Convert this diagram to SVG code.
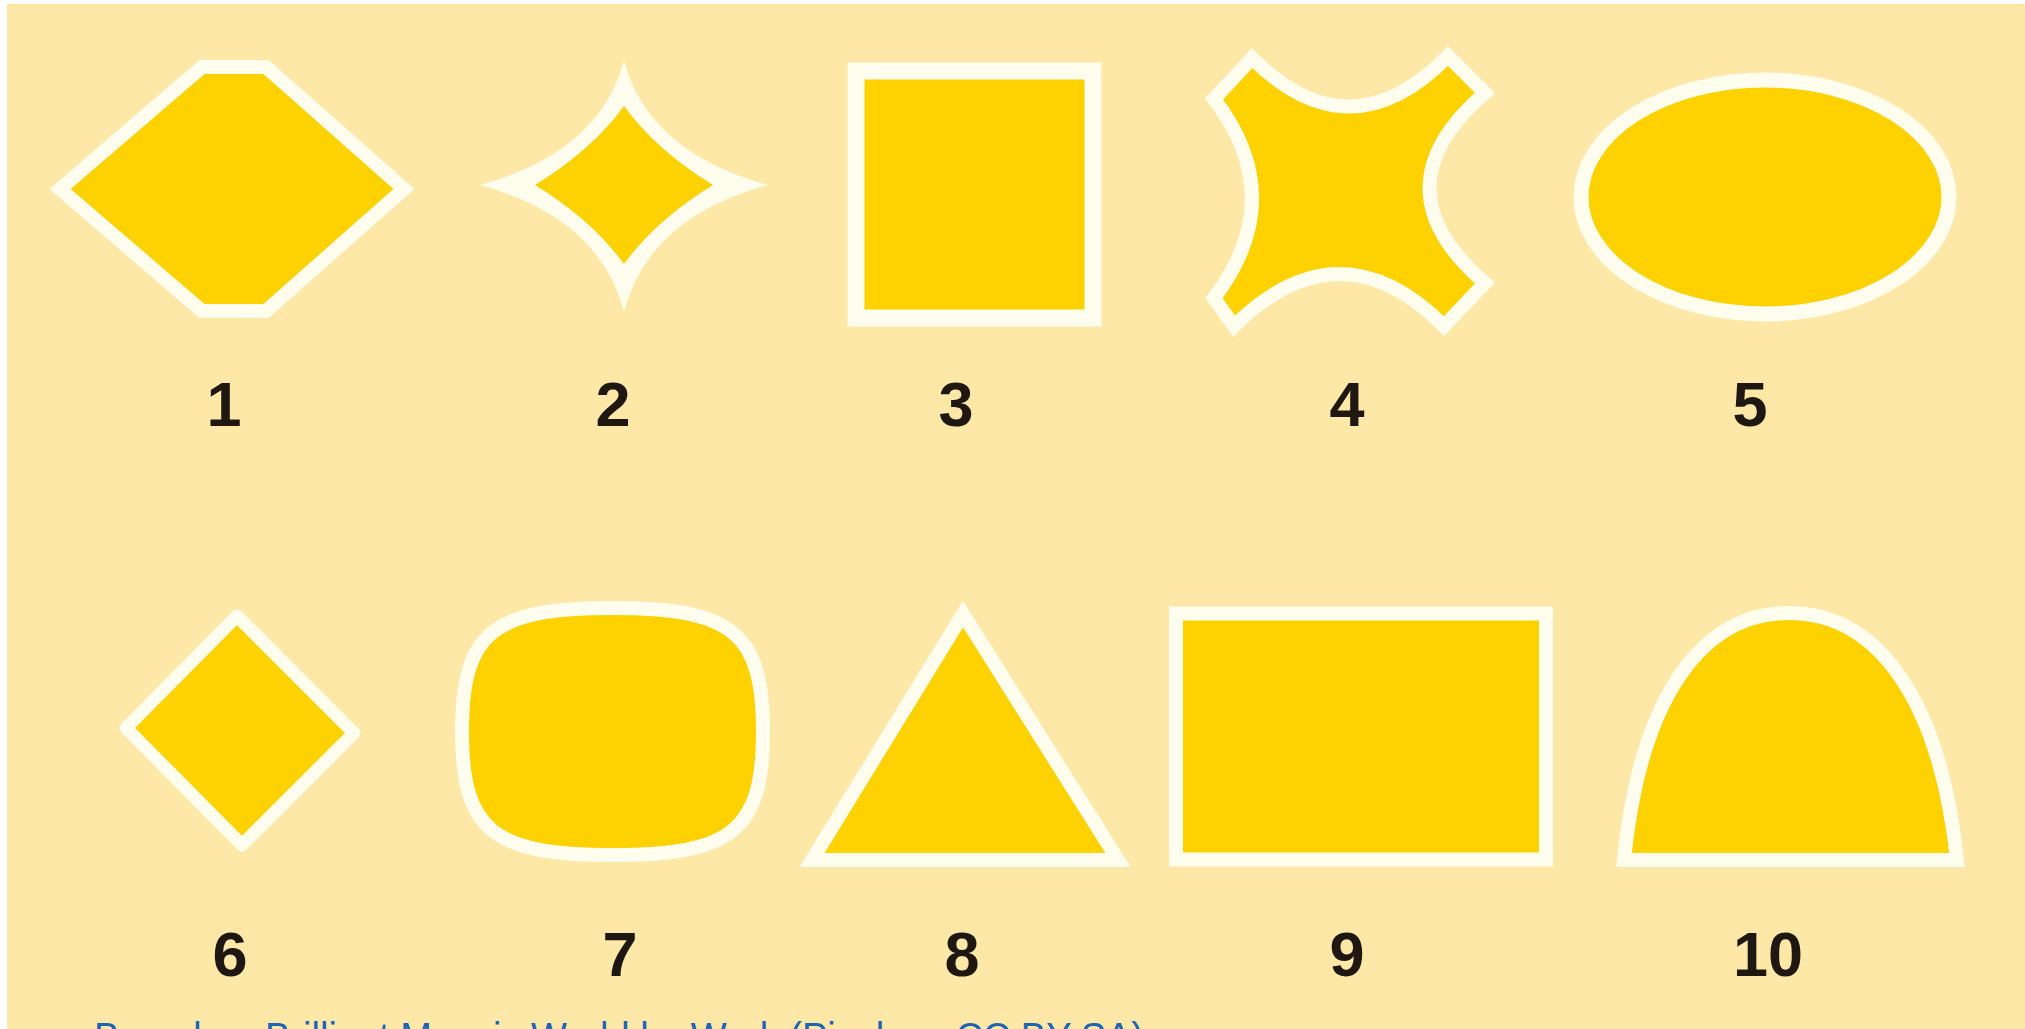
<svg xmlns="http://www.w3.org/2000/svg" width="2025" height="1029" viewBox="0 0 2025 1029">
<style>
.shape{fill:#FED100;stroke:#FFFDEE;stroke-width:14;stroke-linejoin:miter}
.white{fill:#FFFDEE}
.yellow{fill:#FED100}
.num{font-family:"Liberation Sans",Arial,sans-serif;font-weight:bold;font-size:63px;fill:#1E1712;text-anchor:middle}
.credit{font-family:"Liberation Sans",Arial,sans-serif;font-size:40px;fill:#1F63B5}
</style>
<rect width="2025" height="1029" fill="#FFFFFF"/>
<rect x="7" y="4" width="2018" height="1025" fill="#FDE8A8"/>

<g id="shape1">
<path class="shape" d="M202,67 L266,67 L404,189 L266,311 L202,311 L60,189 Z"/>
<text class="num" x="224" y="426">1</text>
</g>

<g id="shape2">
<path class="white" d="M624,60 Q648,152 768,185 Q648,218 624,312 Q600,218 480,185 Q600,152 624,60 Z"/>
<path class="yellow" d="M624,106 Q656,150 713,185 Q656,220 624,264 Q592,220 535,185 Q592,150 624,106 Z"/>
<text class="num" x="613" y="426">2</text>
</g>

<g id="shape3">
<rect class="shape" x="856" y="71" width="237" height="247" style="stroke-width:17"/>
<text class="num" x="956" y="426">3</text>
</g>

<g id="shape4">
<path class="shape" d="M1214,99 L1252,58 Q1350,156 1448,56 L1485,93 Q1374,188 1485,283 L1444,326 Q1340,222 1234,326 L1214,298 Q1290,198 1214,99 Z"/>
<text class="num" x="1347" y="426">4</text>
</g>

<g id="shape5">
<ellipse class="shape" cx="1765" cy="197" rx="184" ry="117" style="stroke-width:15"/>
<text class="num" x="1750" y="426">5</text>
</g>

<g id="shape6">
<path class="shape" d="M237,616 L354,733 L242,845 L126,728 Z" style="stroke-width:13;stroke-linejoin:round"/>
<text class="num" x="230" y="976">6</text>
</g>

<g id="shape7">
<path class="shape" d="M612.5,608 C732.5,608 763,632.5 763,731.5 C763,830.5 732.5,855 612.5,855 C492.5,855 462,830.5 462,731.5 C462,632.5 492.5,608 612.5,608 Z"/>
<text class="num" x="620" y="976">7</text>
</g>

<g id="shape8">
<path class="shape" d="M963,614 L1118,860 L812,860 Z"/>
<text class="num" x="962" y="976">8</text>
</g>

<g id="shape9">
<rect class="shape" x="1176" y="613.5" width="370" height="246"/>
<text class="num" x="1347" y="976">9</text>
</g>

<g id="shape10">
<path class="shape" d="M1624,860 C1640,700 1700,613 1789,613 C1878,613 1940,700 1957,860 Z"/>
<text class="num" x="1768" y="976">10</text>
</g>

<text class="credit" x="94" y="1051" textLength="1050" lengthAdjust="spacingAndGlyphs">Based on Brilliant Mosaic World by Work (Pixabay, CC BY-SA)</text>
</svg>
